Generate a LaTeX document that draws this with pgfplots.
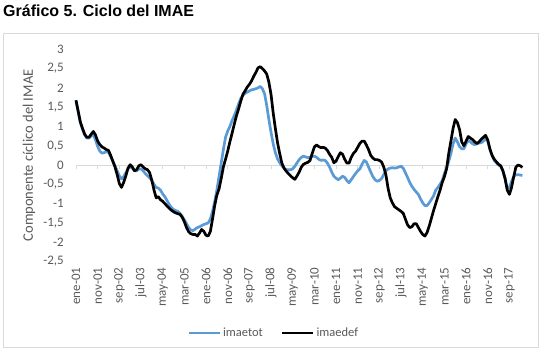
\documentclass[border=0pt]{standalone}
\usepackage{fontspec}
\setmainfont{Carlito}
\newfontfamily\titlefont{Liberation Sans}
\usepackage{pgfplots}
\usepackage{pgfplotstable}
\pgfplotsset{compat=1.18}
\definecolor{imblue}{HTML}{5B9BD5}
\definecolor{txtgray}{HTML}{595959}
\definecolor{linegray}{HTML}{D9D9D9}
\pgfplotstableread{
i tot def
0 1.65 1.68
1 1.38 1.40
2 1.10 1.12
3 0.93 0.95
4 0.78 0.80
5 0.70 0.72
6 0.70 0.72
7 0.75 0.80
8 0.80 0.87
9 0.65 0.78
10 0.48 0.62
11 0.36 0.53
12 0.31 0.47
13 0.32 0.44
14 0.35 0.40
15 0.33 0.38
16 0.22 0.25
17 0.10 0.10
18 -0.02 -0.05
19 -0.15 -0.25
20 -0.28 -0.48
21 -0.36 -0.58
22 -0.30 -0.45
23 -0.20 -0.28
24 -0.10 -0.08
25 -0.05 0.01
26 -0.08 -0.05
27 -0.15 -0.15
28 -0.15 -0.12
29 -0.10 -0.02
30 -0.10 0.01
31 -0.15 -0.05
32 -0.22 -0.10
33 -0.28 -0.12
34 -0.33 -0.20
35 -0.40 -0.40
36 -0.50 -0.65
37 -0.58 -0.85
38 -0.60 -0.82
39 -0.65 -0.90
40 -0.75 -0.94
41 -0.82 -1.00
42 -0.92 -1.06
43 -1.02 -1.12
44 -1.10 -1.17
45 -1.15 -1.21
46 -1.18 -1.24
47 -1.20 -1.26
48 -1.25 -1.28
49 -1.33 -1.35
50 -1.42 -1.47
51 -1.52 -1.62
52 -1.62 -1.73
53 -1.68 -1.78
54 -1.70 -1.80
55 -1.66 -1.80
56 -1.62 -1.84
57 -1.60 -1.76
58 -1.57 -1.67
59 -1.54 -1.72
60 -1.52 -1.82
61 -1.50 -1.84
62 -1.40 -1.72
63 -1.20 -1.40
64 -0.95 -1.05
65 -0.65 -0.78
66 -0.30 -0.62
67 0.05 -0.35
68 0.40 -0.05
69 0.72 0.15
70 0.88 0.36
71 1.00 0.60
72 1.15 0.82
73 1.28 1.05
74 1.42 1.27
75 1.58 1.45
76 1.72 1.65
77 1.80 1.83
78 1.86 1.92
79 1.89 2.02
80 1.92 2.09
81 1.95 2.18
82 1.96 2.30
83 1.98 2.40
84 2.00 2.52
85 2.04 2.55
86 1.98 2.50
87 1.85 2.44
88 1.55 2.36
89 1.18 2.15
90 0.85 1.83
91 0.55 1.35
92 0.32 0.95
93 0.16 0.58
94 0.06 0.30
95 -0.02 0.05
96 -0.08 -0.08
97 -0.12 -0.16
98 -0.12 -0.22
99 -0.12 -0.28
100 -0.10 -0.33
101 -0.03 -0.37
102 0.06 -0.28
103 0.14 -0.18
104 0.20 -0.05
105 0.23 0.02
106 0.21 0.05
107 0.19 0.07
108 0.20 0.12
109 0.23 0.30
110 0.23 0.47
111 0.20 0.52
112 0.15 0.48
113 0.12 0.45
114 0.13 0.46
115 0.12 0.44
116 0.05 0.38
117 -0.05 0.28
118 -0.18 0.20
119 -0.29 0.06
120 -0.34 0.10
121 -0.38 0.22
122 -0.34 0.32
123 -0.29 0.28
124 -0.32 0.15
125 -0.40 0.05
126 -0.46 0.05
127 -0.38 0.20
128 -0.30 0.30
129 -0.22 0.36
130 -0.15 0.46
131 -0.10 0.56
132 0.02 0.62
133 0.12 0.62
134 0.08 0.52
135 -0.05 0.40
136 -0.18 0.25
137 -0.30 0.18
138 -0.38 0.14
139 -0.42 0.14
140 -0.40 0.12
141 -0.35 0.08
142 -0.25 -0.05
143 -0.15 -0.25
144 -0.10 -0.60
145 -0.08 -0.85
146 -0.07 -0.98
147 -0.08 -1.08
148 -0.07 -1.12
149 -0.05 -1.16
150 -0.03 -1.20
151 -0.08 -1.25
152 -0.20 -1.40
153 -0.32 -1.55
154 -0.45 -1.62
155 -0.55 -1.60
156 -0.63 -1.52
157 -0.70 -1.52
158 -0.76 -1.62
159 -0.88 -1.72
160 -0.98 -1.80
161 -1.05 -1.84
162 -1.05 -1.75
163 -0.98 -1.58
164 -0.89 -1.38
165 -0.80 -1.18
166 -0.65 -1.00
167 -0.58 -0.82
168 -0.50 -0.65
169 -0.40 -0.45
170 -0.22 -0.30
171 -0.08 -0.10
172 0.10 0.30
173 0.30 0.62
174 0.55 0.95
175 0.70 1.18
176 0.60 1.10
177 0.48 0.92
178 0.42 0.60
179 0.42 0.50
180 0.55 0.62
181 0.64 0.74
182 0.60 0.70
183 0.55 0.66
184 0.53 0.60
185 0.55 0.56
186 0.57 0.60
187 0.58 0.67
188 0.62 0.72
189 0.68 0.77
190 0.62 0.65
191 0.40 0.42
192 0.25 0.25
193 0.12 0.15
194 0.06 0.08
195 0.00 0.02
196 -0.03 -0.02
197 -0.15 -0.15
198 -0.35 -0.35
199 -0.62 -0.65
200 -0.58 -0.76
201 -0.42 -0.58
202 -0.30 -0.30
203 -0.25 -0.05
204 -0.25 0.00
205 -0.26 -0.02
206 -0.27 -0.06
}\imae
\begin{document}
\begin{tikzpicture}[x=1bp,y=1bp]
\useasboundingbox (0,0) rectangle (547,351);
\draw[linegray, line width=0.75bp] (3,3.5) rectangle (538,318);
\node[anchor=base west, inner sep=0pt, font=\titlefont\bfseries\fontsize{16bp}{19bp}\selectfont] at (3,334.3) {Gráfico 5. Ciclo del IMAE};
\begin{axis}[
  at={(76bp,89.5bp)}, anchor=south west,
  scale only axis, width=446.4bp, height=212.2bp,
  xmin=0, xmax=206, ymin=-2.5, ymax=3,
  clip=false,
  axis line style={draw=none},
  major tick length=0pt,
  tick label style={font=\fontsize{13bp}{15bp}\selectfont, text=txtgray},
  xtick={0,10,...,200},
  xticklabels={ene-01,nov-01,sep-02,jul-03,may-04,mar-05,ene-06,nov-06,sep-07,jul-08,may-09,mar-10,ene-11,nov-11,sep-12,jul-13,may-14,mar-15,ene-16,nov-16,sep-17},
  xticklabel style={rotate=90, anchor=east, inner sep=0pt},
  xticklabel shift=6bp,
  ytick={-2.5,-2,-1.5,-1,-0.5,0,0.5,1,1.5,2,2.5,3},
  yticklabel style={inner sep=0pt, anchor=east, /pgf/number format/.cd, use comma, fixed, precision=1},
  yticklabel shift=12bp,
  /pgf/number format/assume math mode=true,
  ylabel={Componente cíclico del IMAE},
  every axis y label/.style={at={(axis description cs:-0.1053,0.5)}, anchor=center, rotate=90, font=\fontsize{14.5bp}{17bp}\selectfont, text=txtgray},
  legend style={at={(axis description cs:0.443,-0.337)}, anchor=center, draw=none, fill=none, font=\fontsize{12.5bp}{15bp}\selectfont, text=txtgray, /tikz/every even column/.append style={column sep=16bp}},
  legend columns=2,
  legend image code/.code={\draw[#1] (0bp,0bp) -- (31bp,0bp);},
]
\draw[linegray, line width=0.75bp] (axis cs:0,0) -- (axis cs:206,0);
\pgfplotsinvokeforeach{0,10,...,200}{\draw[linegray, line width=0.75bp] (axis cs:#1,0) -- ++(0bp,-4bp);}
\addplot[imblue, line width=2.7bp, line join=round, mark=none] table[x=i,y=tot]{\imae};
\addlegendentry{imaetot}
\addplot[black, line width=2.7bp, line join=round, mark=none] table[x=i,y=def]{\imae};
\addlegendentry{imaedef}
\end{axis}
\end{tikzpicture}
\end{document}
